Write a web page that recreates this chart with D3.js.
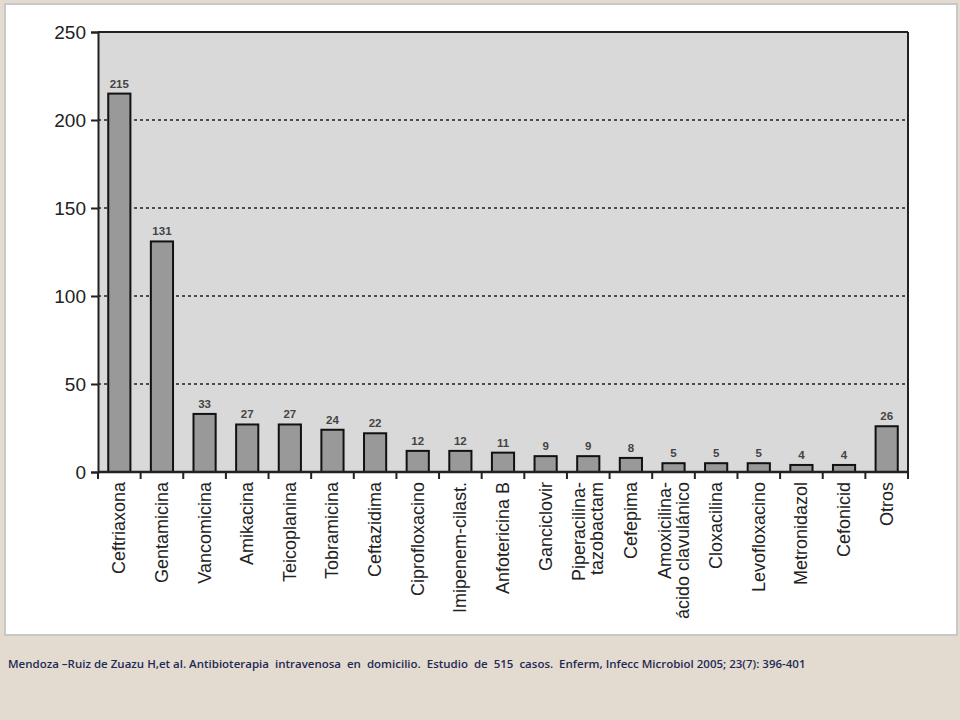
<!DOCTYPE html>
<html><head><meta charset="utf-8">
<script src="https://cdn.jsdelivr.net/npm/d3@7"></script>
<style>body{margin:0;background:#e3dbcf;}svg{display:block}</style>
</head><body>
<svg id="c" width="960" height="720"></svg>
<script>
const categories = ["Ceftriaxona","Gentamicina","Vancomicina","Amikacina","Teicoplanina","Tobramicina","Ceftazidima","Ciprofloxacino","Imipenem-cilast.","Anfotericina B","Ganciclovir","Piperacilina-|tazobactam","Cefepima","Amoxicilina-|ácido clavulánico","Cloxacilina","Levofloxacino","Metronidazol","Cefonicid","Otros"];
const values = [215,131,33,27,27,24,22,12,12,11,9,9,8,5,5,5,4,4,26];
const yTicks = [0,50,100,150,200,250];
const citation = "Mendoza –Ruiz de Zuazu H,et al. Antibioterapia  intravenosa  en  domicilio.  Estudio  de  515  casos.  Enferm, Infecc Microbiol 2005; 23(7): 396-401";

const svg = d3.select("#c");
svg.append("rect").attr("x",5).attr("y",4).attr("width",952).attr("height",631).attr("fill","#fff").attr("stroke","#c8c8c8").attr("stroke-width",2);
const L=98,R=908,T=32,B=472;
const x = d3.scaleBand().domain(categories).range([L,R]).paddingInner(0.48).paddingOuter(0.24);
const xb = d3.scaleBand().domain(categories).range([L,R]);
const y = d3.scaleLinear().domain([0,250]).range([B,T]);
svg.append("rect").attr("x",L).attr("y",T).attr("width",R-L).attr("height",B-T).attr("fill","#d9d9d9");
svg.selectAll(".g").data(yTicks.slice(1,-1)).join("line").attr("x1",L).attr("x2",R).attr("y1",d=>y(d)).attr("y2",d=>y(d)).attr("stroke","#222").attr("stroke-width",1.6).attr("stroke-dasharray","3,3");
svg.append("line").attr("x1",L).attr("x2",R).attr("y1",T).attr("y2",T).attr("stroke","#222").attr("stroke-width",2);
svg.append("line").attr("x1",R).attr("x2",R).attr("y1",T).attr("y2",B).attr("stroke","#222").attr("stroke-width",2);
const ya = svg.append("g").attr("transform",`translate(${L},0)`).call(d3.axisLeft(y).tickValues(yTicks).tickSize(7).tickPadding(5));
ya.select(".domain").attr("stroke","#222").attr("stroke-width",2);
ya.selectAll("line").attr("stroke","#222").attr("stroke-width",2);
ya.selectAll("text").attr("font-family","Liberation Sans, Arial").attr("font-size",19).attr("fill","#222");
svg.selectAll(".bar").data(values).join("rect").attr("x",(d,i)=>x(categories[i])).attr("width",x.bandwidth()).attr("y",d=>y(d)).attr("height",d=>B-y(d)).attr("fill","#999").attr("stroke","#111").attr("stroke-width",2);
svg.selectAll(".vl").data(values).join("text").attr("x",(d,i)=>x(categories[i])+x.bandwidth()/2).attr("y",d=>y(d)-6).attr("text-anchor","middle").attr("font-family","Liberation Sans, Arial").attr("font-size",11.5).attr("font-weight","bold").attr("fill","#444").text(d=>d);
svg.append("line").attr("x1",L).attr("x2",R).attr("y1",B).attr("y2",B).attr("stroke","#222").attr("stroke-width",2.5);
const bounds = categories.map(c=>xb(c)).concat([R]);
svg.selectAll(".xt").data(bounds).join("line").attr("x1",d=>d).attr("x2",d=>d).attr("y1",B).attr("y2",B+7).attr("stroke","#222").attr("stroke-width",2);
categories.forEach(c=>{
  const lines=c.split("|"), cx=xb(c)+xb.bandwidth()/2, lh=18;
  const t=svg.append("text").attr("transform",`translate(${cx},${B+10}) rotate(-90)`).attr("text-anchor","end").attr("font-family","Liberation Sans, Arial").attr("font-size",18).attr("fill","#222");
  lines.forEach((l,k)=>t.append("tspan").attr("x",0).attr("y",(k-(lines.length-1)/2)*lh+6).text(l));
});
svg.append("text").attr("x",8).attr("y",668).attr("font-family","Open Sans, DejaVu Sans").attr("font-size",11.5).attr("font-weight","600").attr("fill","#1f2a55").attr("xml:space","preserve").style("white-space","pre").text(citation);
</script>
</body></html>
